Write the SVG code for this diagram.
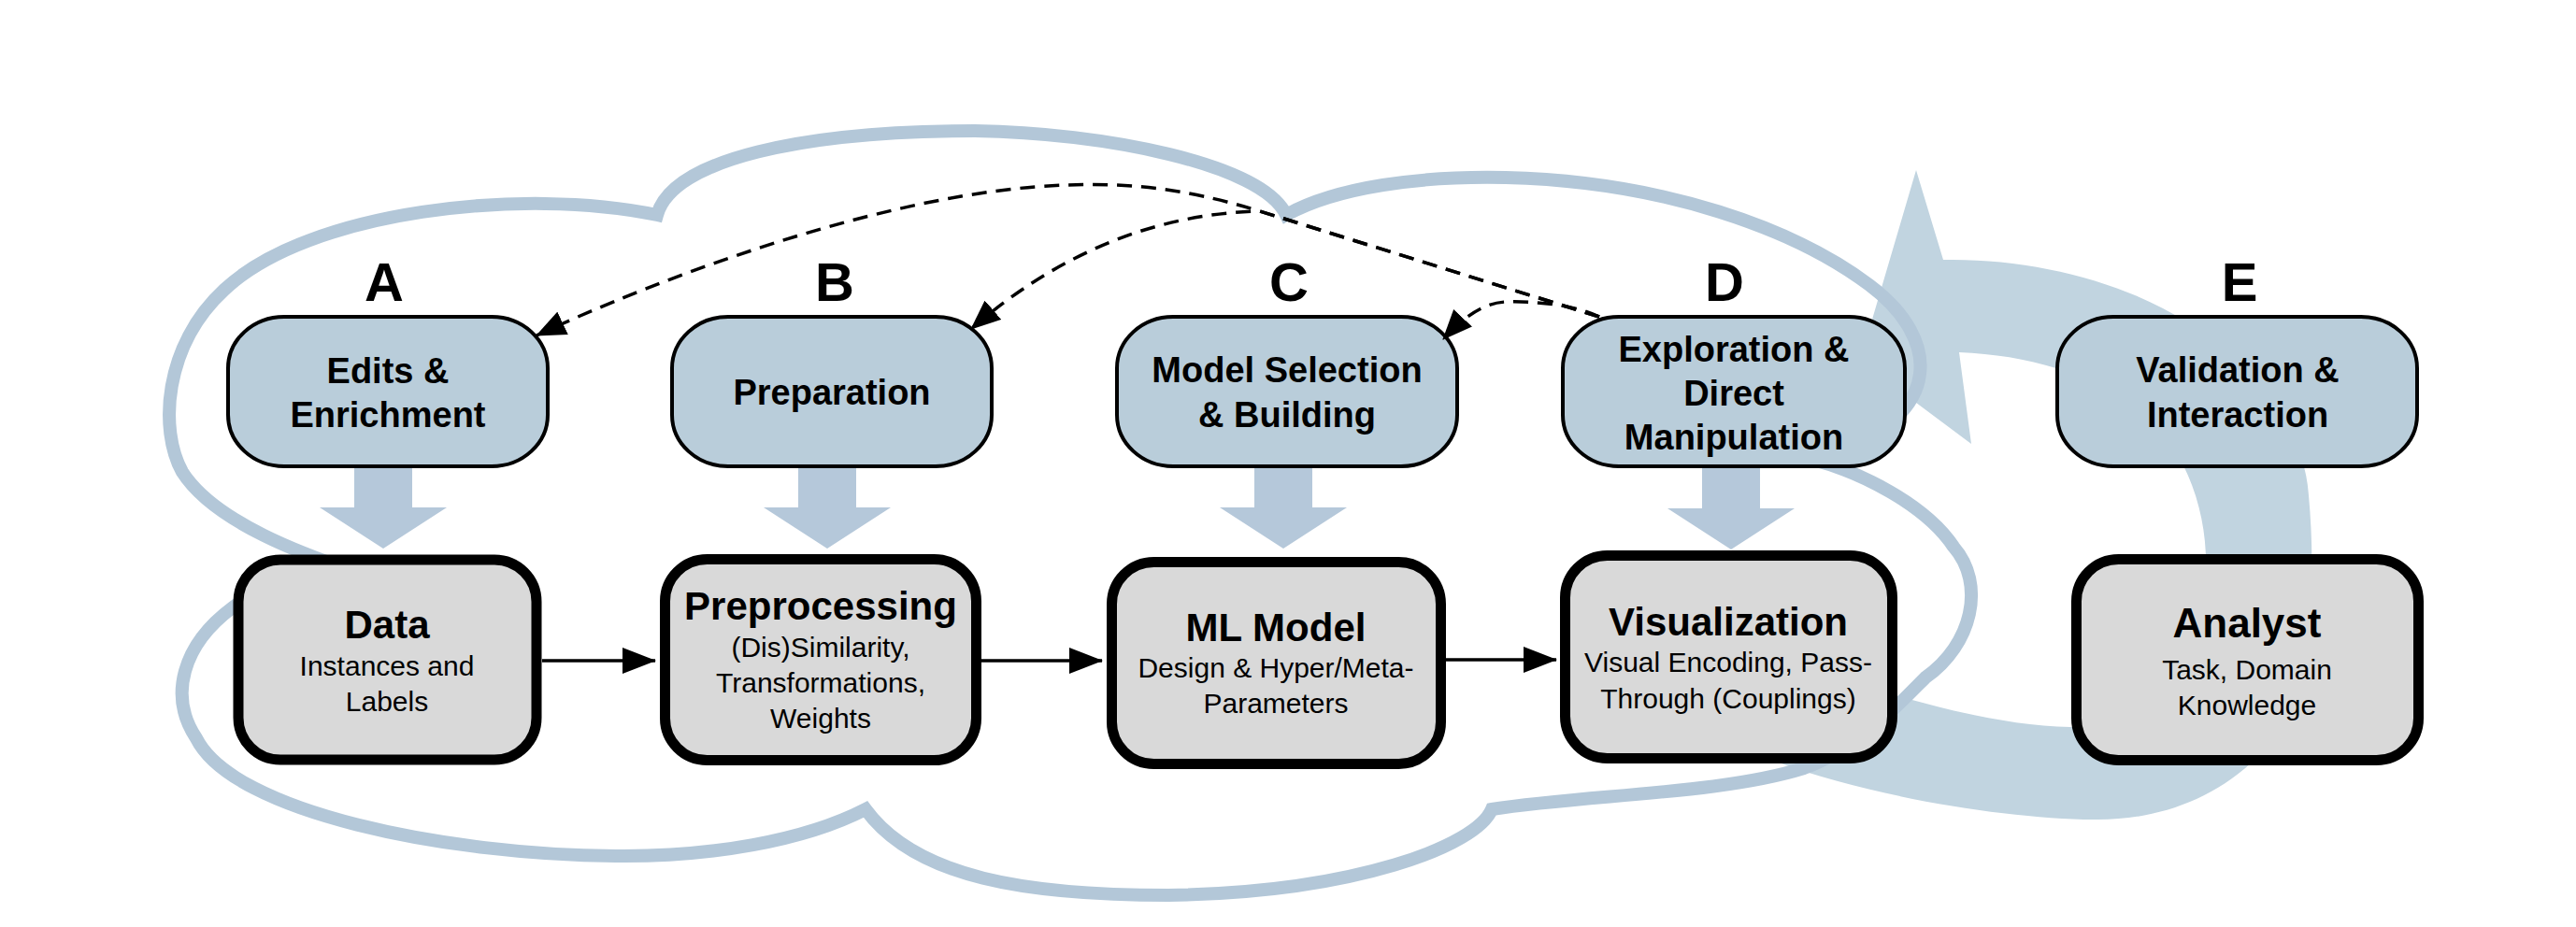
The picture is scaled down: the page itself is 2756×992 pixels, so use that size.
<svg xmlns="http://www.w3.org/2000/svg" width="2756" height="992" viewBox="0 0 2756 992">
<style>
text{font-family:"Liberation Sans",Arial,Helvetica,sans-serif;fill:#000;text-anchor:middle}
.letter{font-size:58px;font-weight:bold}
.top{font-size:38px;font-weight:bold}
.title{font-size:42px;font-weight:bold}
.sub{font-size:30px}
.tbox{fill:#b9cdda;stroke:#000;stroke-width:4}
.bbox{fill:#d9d9d9;stroke:#000;stroke-width:11}
.solid{fill:none;stroke:#000;stroke-width:3.5}
.dash{fill:none;stroke:#000;stroke-width:3.5;stroke-dasharray:16 10}
.blk{fill:#b5c8da}
</style>
<defs>
<marker id="ah" markerUnits="userSpaceOnUse" viewBox="0 0 36 28" markerWidth="36" markerHeight="28" refX="35" refY="14" orient="auto"><path d="M0,0 L36,14 L0,28 Z" fill="#000"/></marker>
<marker id="dh" markerUnits="userSpaceOnUse" viewBox="0 0 32 27" markerWidth="32" markerHeight="27" refX="31" refY="13.5" orient="auto"><path d="M0,0 L32,13.5 L0,27 Z" fill="#000"/></marker>
<path id="down" d="M-31,0 L31,0 L31,44 L68,44 L0,88 L-68,44 L-31,44 Z"/>
</defs>
<rect width="2756" height="992" fill="#fff"/>

<g id="cycle-arrow">
<path fill="#c1d4e0" d="M2050,182 L2079,278 C2170,276 2270,300 2340,345 C2420,400 2465,460 2470,530 C2480,640 2470,760 2408,817 C2360,860 2300,878 2240,877 C2150,876 2010,855 1900,815 L1880,790 L1960,728 L2042,748 C2100,764 2160,777 2215,778 C2310,770 2358,690 2360,610 C2362,550 2340,480 2290,440 C2240,400 2170,380 2096,377 L2109,475 L1990,386 Z"/>
</g>

<g id="cloud">
<path fill="none" stroke="#b3c7d8" stroke-width="14" d="M703,230 C720,170 860,140 1043,140 C1180,142 1350,175 1376,230 C1430,200 1520,188 1611,190 C1780,194 1920,245 2000,305 C2040,335 2058,370 2054,400 C2050,440 2000,480 1940,492 C1990,505 2060,540 2090,585 C2125,625 2110,690 2060,725 C2035,750 1990,800 1930,822 C1840,850 1700,850 1596,866 C1580,905 1450,955 1250,958 C1100,958 980,940 926,866 C860,900 760,917 659,916 C480,915 250,870 210,790 C180,745 195,690 249,650 C290,620 340,600 380,612 C330,595 230,560 195,505 C170,460 175,370 240,310 C330,225 560,200 703,230 Z"/>
</g>

<g id="block-arrows" class="blk">
<use href="#down" x="410" y="499"/>
<use href="#down" x="885" y="499"/>
<use href="#down" x="1373" y="499"/>
<use href="#down" x="1852" y="500"/>
</g>

<g id="node-A">
<text class="letter" x="411" y="322">A</text>
<rect class="tbox" x="244" y="339" width="342" height="160" rx="60" ry="55"/>
<text class="top" x="415" y="410">Edits &amp;</text>
<text class="top" x="415" y="457">Enrichment</text>
</g>
<g id="node-B">
<text class="letter" x="893" y="322">B</text>
<rect class="tbox" x="719" y="339" width="342" height="160" rx="60" ry="55"/>
<text class="top" x="890" y="433">Preparation</text>
</g>
<g id="node-C">
<text class="letter" x="1379" y="322">C</text>
<rect class="tbox" x="1195" y="339" width="364" height="160" rx="60" ry="55"/>
<text class="top" x="1377" y="409">Model Selection</text>
<text class="top" x="1377" y="457">&amp; Building</text>
</g>
<g id="node-D">
<text class="letter" x="1845" y="322">D</text>
<rect class="tbox" x="1672" y="339" width="366" height="160" rx="60" ry="55"/>
<text class="top" x="1855" y="387">Exploration &amp;</text>
<text class="top" x="1855" y="434">Direct</text>
<text class="top" x="1855" y="481">Manipulation</text>
</g>
<g id="node-E">
<text class="letter" x="2396" y="322">E</text>
<rect class="tbox" x="2201" y="339" width="385" height="160" rx="60" ry="55"/>
<text class="top" x="2394" y="409">Validation &amp;</text>
<text class="top" x="2394" y="457">Interaction</text>
</g>

<g id="node-data">
<rect class="bbox" x="255" y="599" width="319" height="214" rx="45" ry="45"/>
<text class="title" x="414" y="683">Data</text>
<text class="sub" x="414" y="723">Instances and</text>
<text class="sub" x="414" y="761">Labels</text>
</g>
<g id="node-preprocessing">
<rect class="bbox" x="711.5" y="598.5" width="333" height="215" rx="45" ry="45"/>
<text class="title" x="878" y="663">Preprocessing</text>
<text class="sub" x="878" y="703">(Dis)Similarity,</text>
<text class="sub" x="878" y="741">Transformations,</text>
<text class="sub" x="878" y="779">Weights</text>
</g>
<g id="node-ml">
<rect class="bbox" x="1189.5" y="601.5" width="352" height="216" rx="45" ry="45"/>
<text class="title" x="1365" y="686">ML Model</text>
<text class="sub" x="1365" y="725">Design &amp; Hyper/Meta-</text>
<text class="sub" x="1365" y="763">Parameters</text>
</g>
<g id="node-vis">
<rect class="bbox" x="1674.5" y="594.5" width="350" height="217" rx="45" ry="45"/>
<text class="title" x="1849" y="680">Visualization</text>
<text class="sub" x="1849" y="719">Visual Encoding, Pass-</text>
<text class="sub" x="1849" y="758">Through (Couplings)</text>
</g>
<g id="node-analyst">
<rect class="bbox" x="2221.5" y="598.5" width="366" height="215" rx="45" ry="45"/>
<text class="title" x="2404" y="682" style="font-size:44px">Analyst</text>
<text class="sub" x="2404" y="727">Task, Domain</text>
<text class="sub" x="2404" y="765">Knowledge</text>
</g>

<g id="connectors">
<path class="solid" marker-end="url(#ah)" d="M580,707 L701,707"/>
<path class="solid" marker-end="url(#ah)" d="M1050,707 L1179,707"/>
<path class="solid" marker-end="url(#ah)" d="M1547,706 L1665,706"/>
<path class="dash" marker-end="url(#dh)" d="M1711,339 L1348,226 C1260,199 1200,196 1141,198 C950,204 700,300 574,359"/>
<path class="dash" marker-end="url(#dh)" d="M1711,339 L1348,226 Q1180,230 1039,352"/>
<path class="dash" marker-end="url(#dh)" d="M1711,339 C1685,326 1640,322 1611,323 C1590,324 1570,335 1544,363"/>
</g>
</svg>
